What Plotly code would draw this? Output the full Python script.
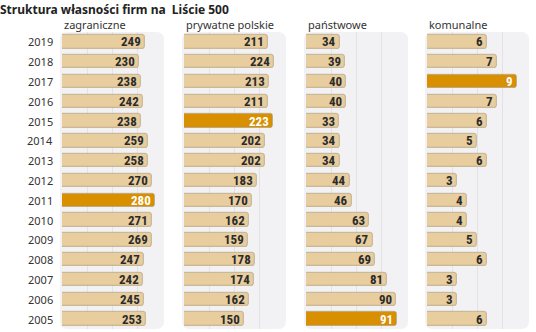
import plotly.graph_objects as go

W, H = 536, 332

years = [2019, 2018, 2017, 2016, 2015, 2014, 2013, 2012, 2011, 2010, 2009, 2008, 2007, 2006, 2005]
categories = ["zagraniczne", "prywatne polskie", "państwowe", "komunalne"]
zagraniczne = [249, 230, 238, 242, 238, 259, 258, 270, 280, 271, 269, 247, 242, 245, 253]
prywatne = [211, 224, 213, 211, 223, 202, 202, 183, 170, 162, 159, 178, 174, 162, 150]
panstwowe = [34, 39, 40, 40, 33, 34, 34, 44, 46, 63, 67, 69, 81, 90, 91]
komunalne = [6, 7, 9, 7, 6, 5, 6, 3, 4, 4, 5, 6, 3, 3, 6]
highlight_year = [2011, 2015, 2005, 2017]
axis_max = [300, 250, 100, 10]
title = "Struktura własności firm na  Liście 500"

series = [zagraniczne, prywatne, panstwowe, komunalne]

TAN = "#e8cd9e"
ORANGE = "#d88f00"
PANEL = "#f2f2f4"

panel_left_px = [62, 184, 306, 427]
panel_w_px = 100
y_top_px, y_bot_px = 32, 329

def px_x(p):
    return p / W

def px_y(p):
    return 1 - p / H

fig = go.Figure()
layout_axes = {}
shapes = []
annotations = []

num_font = "Liberation Sans Narrow, Roboto Condensed, DejaVu Sans Condensed, Roboto, sans-serif"

for i, (cat, vals) in enumerate(zip(categories, series)):
    axname = "x" if i == 0 else f"x{i+1}"
    layname = "xaxis" if i == 0 else f"xaxis{i+1}"
    x0 = panel_left_px[i]
    x1 = x0 + panel_w_px
    colors = [ORANGE if y == highlight_year[i] else TAN for y in years]
    fig.add_trace(go.Bar(
        x=vals, y=years, orientation="h", xaxis=axname, yaxis="y",
        width=0.68,
        marker=dict(color=colors, line=dict(color="rgba(165,145,110,0.5)", width=1.2),
                    cornerradius=3),
        hoverinfo="x+y", showlegend=False,
    ))
    for v, y in zip(vals, years):
        tc = "#ffffff" if y == highlight_year[i] else "#2b2b2b"
        annotations.append(dict(
            text=f"<b>{v}</b>", xref=axname, yref="y", x=v, y=y,
            xanchor="right", yanchor="middle", xshift=-2, yshift=0, showarrow=False,
            font=dict(color=tc, size=13, family=num_font),
        ))
    layout_axes[layname] = dict(
        domain=[px_x(x0), px_x(x1)], range=[0, axis_max[i]],
        showticklabels=False, zeroline=False, showline=False,
        tickvals=[axis_max[i] * k / 4 for k in (1, 2, 3)],
        showgrid=True, gridcolor="#e3e3e7", gridwidth=1,
        anchor="y", fixedrange=True,
    )
    # panel background (rounded rect)
    bx0, bx1 = px_x(x0 - 2), px_x(x1 + 2)
    by0, by1 = px_y(y_bot_px), px_y(y_top_px)
    rx, ry = 8 / W, 8 / H
    path = (f"M {bx0+rx},{by1} L {bx1-rx},{by1} Q {bx1},{by1} {bx1},{by1-ry} "
            f"L {bx1},{by0+ry} Q {bx1},{by0} {bx1-rx},{by0} L {bx0+rx},{by0} "
            f"Q {bx0},{by0} {bx0},{by0+ry} L {bx0},{by1-ry} Q {bx0},{by1} {bx0+rx},{by1} Z")
    shapes.append(dict(type="path", path=path, xref="paper", yref="paper",
                       fillcolor=PANEL, line=dict(width=0), layer="below"))
    annotations.append(dict(text=cat, xref="paper", yref="paper",
                            x=px_x(x0), y=px_y(24), xanchor="left", yanchor="middle",
                            showarrow=False,
                            font=dict(size=11, color="#333333", family="Noto Sans, sans-serif")))

for y in years:
    annotations.append(dict(text=str(y), xref="paper", yref="y", x=px_x(55), y=y,
                            xanchor="right", yanchor="middle", showarrow=False,
                            font=dict(size=11, color="#333333", family="Noto Sans, sans-serif")))

annotations.append(dict(text=f"<b>{title}</b>", xref="paper", yref="paper",
                        x=0, y=1, xanchor="left", yanchor="top", showarrow=False,
                        borderpad=0, xshift=-1,
                        font=dict(size=12, color="#222222", family="Noto Sans, sans-serif")))

fig.update_layout(
    width=W, height=H, margin=dict(l=0, r=0, t=0, b=0),
    paper_bgcolor="white", plot_bgcolor="rgba(0,0,0,0)",
    barmode="overlay", bargap=0,
    yaxis=dict(domain=[px_y(y_bot_px), px_y(y_top_px)], range=[2004.5, 2019.5],
               showticklabels=False, showgrid=False, zeroline=False, fixedrange=True),
    shapes=shapes, annotations=annotations,
    **layout_axes,
)

fig.write_html("out.html")
